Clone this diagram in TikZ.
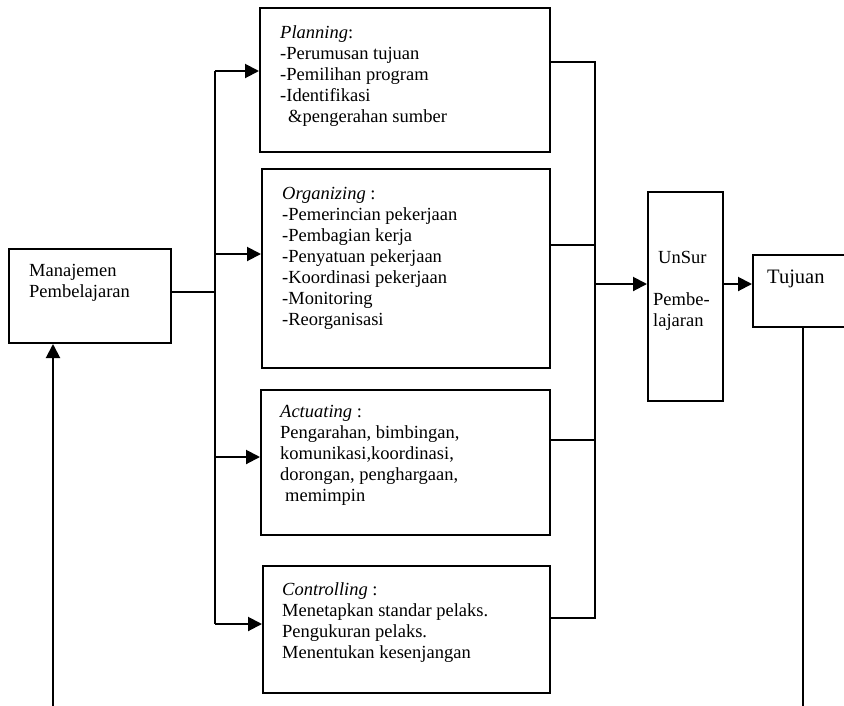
\documentclass[tikz,border=0pt]{standalone}
\usepackage{fontspec}
\setmainfont{Liberation Serif}
\usetikzlibrary{arrows.meta}
\begin{document}
\begin{tikzpicture}[x=1pt,y=-1pt,
  box/.style={draw, line width=2pt, anchor=north west, inner sep=0pt},
  txt/.style={anchor=north west, inner sep=0pt, align=left, font=\fontsize{18.5}{21}\selectfont},
  conn/.style={line width=2pt},
  arr/.style={line width=2pt, -{Triangle[length=14pt,width=14pt]}}]
\path[use as bounding box, clip] (0,0) rectangle (844,705);
% boxes
\node[box, minimum width=162pt, minimum height=94pt] (man) at (8,248) {};
\node[box, minimum width=290pt, minimum height=144pt] (plan) at (259,7) {};
\node[box, minimum width=288pt, minimum height=199pt] (org) at (261,168) {};
\node[box, minimum width=289pt, minimum height=145pt] (act) at (260,389) {};
\node[box, minimum width=287pt, minimum height=127pt] (ctrl) at (262,565) {};
\node[box, minimum width=75pt, minimum height=209pt] (unsur) at (647,191) {};
\node[box, minimum width=150pt, minimum height=72pt] (tuj) at (752,254) {};
% texts
\node[txt] (tman) at (29,264) {Manajemen\\Pembelajaran};
\node[txt] (tplan) at (280,25) {\textit{Planning}:\\-Perumusan tujuan\\-Pemilihan program\\-Identifikasi\\\hspace*{8pt}\&pengerahan sumber};
\node[txt] (torg) at (282,187) {\textit{Organizing} :\\-Pemerincian pekerjaan\\-Pembagian kerja\\-Penyatuan pekerjaan\\-Koordinasi pekerjaan\\-Monitoring\\-Reorganisasi};
\node[txt] (tact) at (280,405) {\textit{Actuating} :\\Pengarahan, bimbingan,\\komunikasi,koordinasi,\\dorongan, penghargaan,\\\hspace*{5pt}memimpin};
\node[txt] (tctrl) at (282,582) {\textit{Controlling} :\\Menetapkan standar pelaks.\\Pengukuran pelaks.\\Menentukan kesenjangan};
\node[txt] (tunsur) at (653,251) {\hspace*{5pt}UnSur\\[21pt]Pembe-\\lajaran};
\node[txt, font=\fontsize{20.5}{24}\selectfont] (ttuj) at (767,270) {Tujuan};
% left trunk
\coordinate (jl) at (215,292);
\coordinate (lt) at (215,71);
\coordinate (lo) at (215,254);
\coordinate (la) at (215,457);
\coordinate (lc) at (215,624);
\draw[conn] (man.east |- jl) -- (jl);
\draw[conn] (lt) -- (lc);
\draw[arr] (lt) -- (lt -| plan.west);
\draw[arr] (lo) -- (lo -| org.west);
\draw[arr] (la) -- (la -| act.west);
\draw[arr] (lc) -- (lc -| ctrl.west);
% right trunk
\coordinate (rp) at (595,62);
\coordinate (ro) at (595,245);
\coordinate (ra) at (595,440);
\coordinate (rc) at (595,618);
\coordinate (ru) at (595,284);
\draw[conn] (rp -| plan.east) -- (rp) -- (rc) -- (rc -| ctrl.east);
\draw[conn] (ro -| org.east) -- (ro);
\draw[conn] (ra -| act.east) -- (ra);
\draw[arr] (ru) -- (ru -| unsur.west);
\draw[arr] (ru -| unsur.east) -- (ru -| tuj.west);
% feedback lines
\coordinate (fb) at (803,712);
\coordinate (fl) at (53,712);
\draw[conn] (fb |- tuj.south) -- (fb);
\draw[arr] (fl) -- (fl |- man.south);
\end{tikzpicture}
\end{document}
